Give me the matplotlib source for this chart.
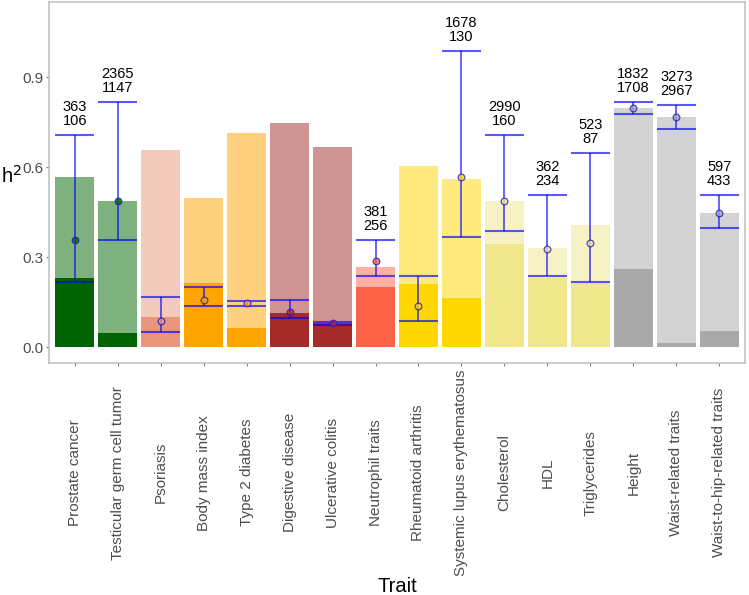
import numpy as np
import matplotlib
matplotlib.use('Agg')
import matplotlib.pyplot as plt
import matplotlib.transforms as mtransforms

plt.rcParams['font.family'] = ['Liberation Sans', 'DejaVu Sans']

# datos
traits = ['Prostate cancer', 'Testicular germ cell tumor', 'Psoriasis', 'Body mass index',
          'Type 2 diabetes', 'Digestive disease', 'Ulcerative colitis', 'Neutrophil traits',
          'Rheumatoid arthritis', 'Systemic lupus erythematosus', 'Cholesterol', 'HDL',
          'Triglycerides', 'Height', 'Waist-related traits', 'Waist-to-hip-related traits']
colors = ['#006400', '#006400', '#E9967A', '#FFA500', '#FFA500', '#A52A2A', '#A52A2A', '#FF6347',
          '#FFD700', '#FFD700', '#F0E68C', '#F0E68C', '#F0E68C', '#A9A9A9', '#A9A9A9', '#A9A9A9']
total_h2 = [0.567, 0.487, 0.658, 0.497, 0.715, 0.747, 0.669, 0.269,
            0.603, 0.561, 0.487, 0.332, 0.408, 0.798, 0.768, 0.449]
part_h2 = [0.230, 0.049, 0.102, 0.213, 0.063, 0.115, 0.082, 0.200,
           0.212, 0.165, 0.345, 0.232, 0.213, 0.260, 0.015, 0.054]
est = [0.358, 0.488, 0.088, 0.158, 0.149, 0.118, 0.080, 0.289,
       0.139, 0.568, 0.488, 0.329, 0.349, 0.798, 0.768, 0.448]
lo = [0.219, 0.359, 0.050, 0.139, 0.139, 0.099, 0.076, 0.239,
      0.089, 0.368, 0.389, 0.239, 0.218, 0.778, 0.728, 0.398]
hi = [0.708, 0.818, 0.169, 0.200, 0.154, 0.158, 0.084, 0.359,
      0.239, 0.988, 0.708, 0.508, 0.648, 0.818, 0.808, 0.508]
n_top = ['363', '2365', '', '', '', '', '', '381', '', '1678', '2990', '362', '523', '1832', '3273', '597']
n_bot = ['106', '1147', '', '', '', '', '', '256', '', '130', '160', '234', '87', '1708', '2967', '433']

fig = plt.figure(figsize=(7.49, 5.95), dpi=100)
ax = fig.add_axes([49/749, 1 - 363/595, 696/749, 361/595])

x = np.arange(len(traits))
w = 0.9
ax.bar(x, total_h2, width=w, color=colors, alpha=0.5, linewidth=0, zorder=1)
ax.bar(x, part_h2, width=w, color=colors, linewidth=0, zorder=2)

# barras de error
ax.vlines(x, lo, hi, color='#0000FF', alpha=0.65, linewidth=1.3, zorder=3)
ax.hlines(lo, x - w/2, x + w/2, color='#0000FF', alpha=0.65, linewidth=1.5, zorder=3)
ax.hlines(hi, x - w/2, x + w/2, color='#0000FF', alpha=0.65, linewidth=1.5, zorder=3)
for i in range(len(x)):
    ax.plot(x[i], est[i], 'o', ms=4.8, mfc=colors[i], mec='#2020C0', mew=0.9, alpha=0.8, zorder=4)
    if n_top[i]:
        ax.text(x[i], hi[i] + 0.022, n_top[i] + '\n' + n_bot[i], ha='center', va='bottom',
                fontsize=10.5, linespacing=1.0, color='black')

ax.set_xlim(-0.6, 15.6)
ax.set_ylim(-0.052, 1.151)
ax.set_yticks([0.0, 0.3, 0.6, 0.9])
ax.set_yticklabels(['0.0', '0.3', '0.6', '0.9'])
ax.set_xticks(x)
ax.set_xticklabels(traits)
shift = mtransforms.ScaledTranslation(4/100, 0, fig.dpi_scale_trans)
for lab in ax.get_xticklabels():
    lab.set_rotation(90)
    lab.set_va('center')
    lab.set_ha('center')
    lab.set_transform(lab.get_transform() + shift)
ax.tick_params(colors='#7F7F7F', labelcolor='#4D4D4D', labelsize=11, length=2.5, width=0.8, pad=1.5)
ax.tick_params(axis='x', pad=76.5)

for s in ax.spines.values():
    s.set_color('#BEBEBE')
    s.set_linewidth(1.1)

fig.text(1/749, 1 - 176/595, 'h$^2$', fontsize=14.5, ha='left', va='center')
fig.text(397/749, 1 - 587/595, 'Trait', fontsize=14.5, ha='center', va='center')

plt.savefig('out.png', dpi=100)
